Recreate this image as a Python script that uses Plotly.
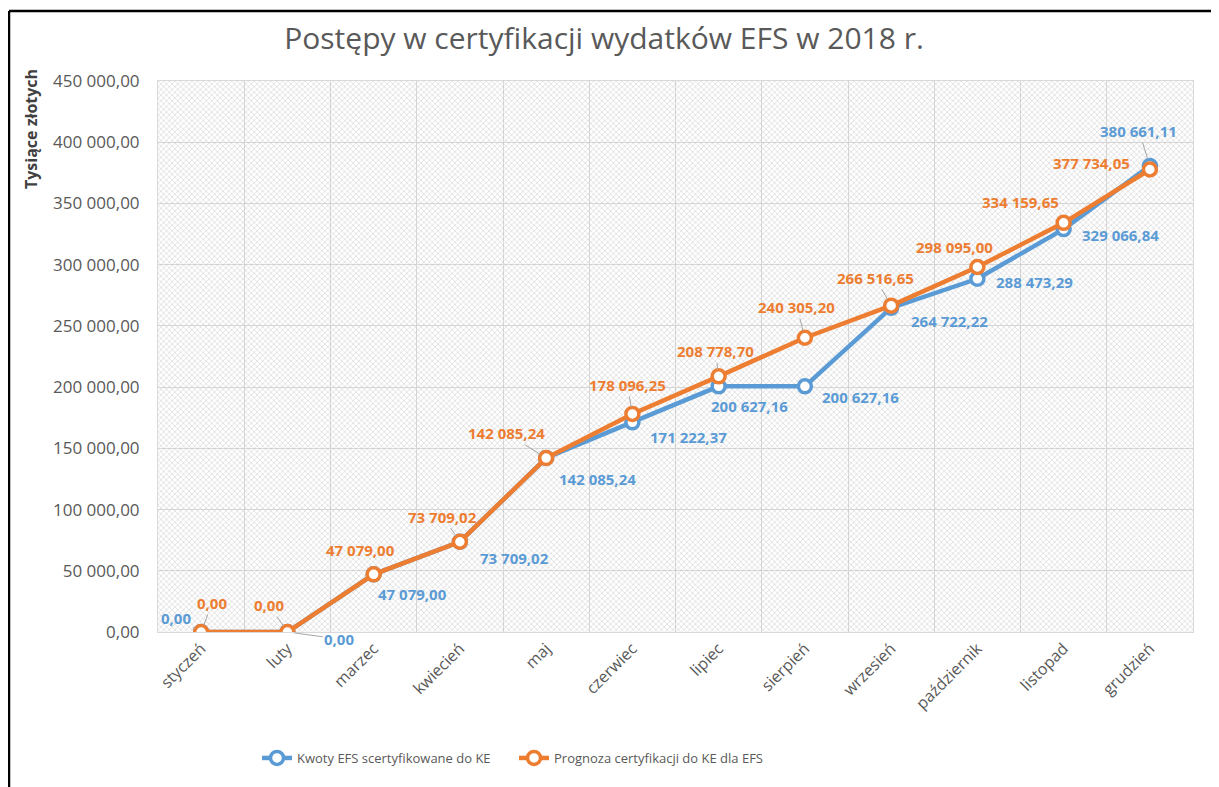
import plotly.graph_objects as go

months = ['styczeń', 'luty', 'marzec', 'kwiecień', 'maj', 'czerwiec', 'lipiec',
          'sierpień', 'wrzesień', 'październik', 'listopad', 'grudzień']
certified = [0.00, 0.00, 47079.00, 73709.02, 142085.24, 171222.37, 200627.16,
             200627.16, 264722.22, 288473.29, 329066.84, 380661.11]
forecast = [0.00, 0.00, 47079.00, 73709.02, 142085.24, 178096.25, 208778.70,
            240305.20, 266516.65, 298095.00, 334159.65, 377734.05]
y_ticks = [0, 50000, 100000, 150000, 200000, 250000, 300000, 350000, 400000, 450000]

name_cert = 'Kwoty EFS scertyfikowane do KE'
name_fore = 'Prognoza certyfikacji do KE dla EFS'
title_text = 'Postępy w certyfikacji wydatków EFS w 2018 r.'
y_title = 'Tysiące złotych'

BLUE = '#5b9bd5'
ORANGE = '#ed7d31'
GRID = '#d9d9d9'
TXT = '#595959'
FONT = 'Open Sans'

# label placement (pixel offsets from the point) and leader-line flags
blue_off = [(-25, -14), (52, 7), (39, 20), (55, 16), (51, 21), (56, 15), (31, 20),
            (56, 11), (58, 13), (57, 3), (57, 6), (-11, -35)]
orange_off = [(11, -29), (-18, -27), (-13, -24), (-17, -25), (-40, -25), (-5, -29),
              (-3, -25), (-8, -31), (-16, -28), (-23, -20), (-43, -21), (-58, -6)]
blue_lead = [True, True, False, False, False, False, False, False, False, False, False, True]
orange_lead = [True, True, False, True, True, True, True, True, True, False, False, False]


def fmt(v):
    return f"{v:,.2f}".replace(',', ' ').replace('.', ',')


xs = list(range(len(months)))

# page body adds an 8px margin; lay the figure out in page pixels minus that offset
OFF = 8
W, H = 1219 - OFF, 787 - OFF
ML, MR, MT, MB = 158 - OFF, 26, 81 - OFF, 155
PW, PH = W - ML - MR, H - MT - MB


def px_x(p):
    return (p - OFF - ML) / PW


def px_y(p):
    return (H + OFF - MB - p) / PH


fig = go.Figure()

# patterned plot-area background
fig.add_trace(go.Scatter(
    x=[-0.5, len(months) - 0.5, len(months) - 0.5, -0.5],
    y=[y_ticks[0], y_ticks[0], y_ticks[-1], y_ticks[-1]],
    fill='toself', mode='lines', line=dict(width=0),
    fillcolor='rgba(0,0,0,0)',
    fillpattern=dict(shape='x', fgcolor='#bfbfbf', bgcolor='rgba(0,0,0,0)',
                     size=4, solidity=0.38),
    hoverinfo='skip', showlegend=False))

for name, vals, col in [(name_cert, certified, BLUE), (name_fore, forecast, ORANGE)]:
    fig.add_trace(go.Scatter(
        x=xs, y=vals, name=name, mode='lines+markers',
        line=dict(color=col, width=4.5),
        marker=dict(symbol='circle', size=13, color='white',
                    line=dict(color=col, width=3.5))))

annotations = []
for vals, offs, leads, col in [(certified, blue_off, blue_lead, BLUE),
                               (forecast, orange_off, orange_lead, ORANGE)]:
    for i, v in enumerate(vals):
        annotations.append(dict(
            x=xs[i], y=v, xref='x', yref='y', text=fmt(v),
            showarrow=True, ax=offs[i][0], ay=offs[i][1],
            arrowhead=0, arrowwidth=1,
            arrowcolor='#a6a6a6' if leads[i] else 'rgba(0,0,0,0)',
            standoff=7,
            font=dict(family=FONT, size=15, color=col, weight='bold')))

annotations.append(dict(
    text=y_title, textangle=-90, xref='paper', yref='paper',
    x=px_x(31), y=px_y(129), showarrow=False, xanchor='center', yanchor='middle',
    font=dict(family=FONT, size=16, color='#404040', weight='bold')))

shapes = [
    dict(type='line', xref='paper', yref='paper',
         x0=px_x(9), x1=px_x(9), y0=px_y(800), y1=px_y(11),
         line=dict(color='black', width=2.5)),
    dict(type='line', xref='paper', yref='paper',
         x0=px_x(9), x1=px_x(1230), y0=px_y(11), y1=px_y(11),
         line=dict(color='black', width=2.5)),
]

fig.update_layout(
    width=W, height=H,
    margin=dict(l=ML, r=MR, t=MT, b=MB, autoexpand=False),
    paper_bgcolor='white', plot_bgcolor='white',
    font=dict(family=FONT, color=TXT),
    title=dict(text=title_text, x=(604 - OFF) / W, xref='container', xanchor='center',
               y=1 - (38 - OFF) / H, yref='container', yanchor='middle',
               font=dict(family=FONT, size=30, color=TXT)),
    showlegend=True,
    legend=dict(orientation='h', x=px_x(257), xanchor='left',
                y=px_y(758), yanchor='middle', entrywidth=212, entrywidthmode='pixels',
                font=dict(family=FONT, size=13, color=TXT),
                bgcolor='rgba(0,0,0,0)', traceorder='normal'),
    annotations=annotations,
    shapes=shapes,
    xaxis=dict(range=[-0.5, len(months) - 0.5], tickmode='array', tickvals=xs,
               ticktext=months, tickangle=-45, showgrid=False, zeroline=False,
               showline=True, linecolor=GRID, mirror=True, ticks='',
               tickfont=dict(family=FONT, size=16, color=TXT),
               minor=dict(tickmode='array', tickvals=[x - 0.5 for x in xs[1:]],
                          showgrid=True, gridcolor=GRID, gridwidth=1, ticks='')),
    yaxis=dict(range=[y_ticks[0], y_ticks[-1]], tickmode='array', tickvals=y_ticks,
               ticktext=[fmt(v) for v in y_ticks], showgrid=True, gridcolor=GRID,
               gridwidth=1, zeroline=False, showline=True, linecolor=GRID, mirror=True,
               ticks='outside', ticklen=14, tickcolor='rgba(0,0,0,0)',
               tickfont=dict(family=FONT, size=17, color=TXT)),
)

fig.write_html('out.html')
